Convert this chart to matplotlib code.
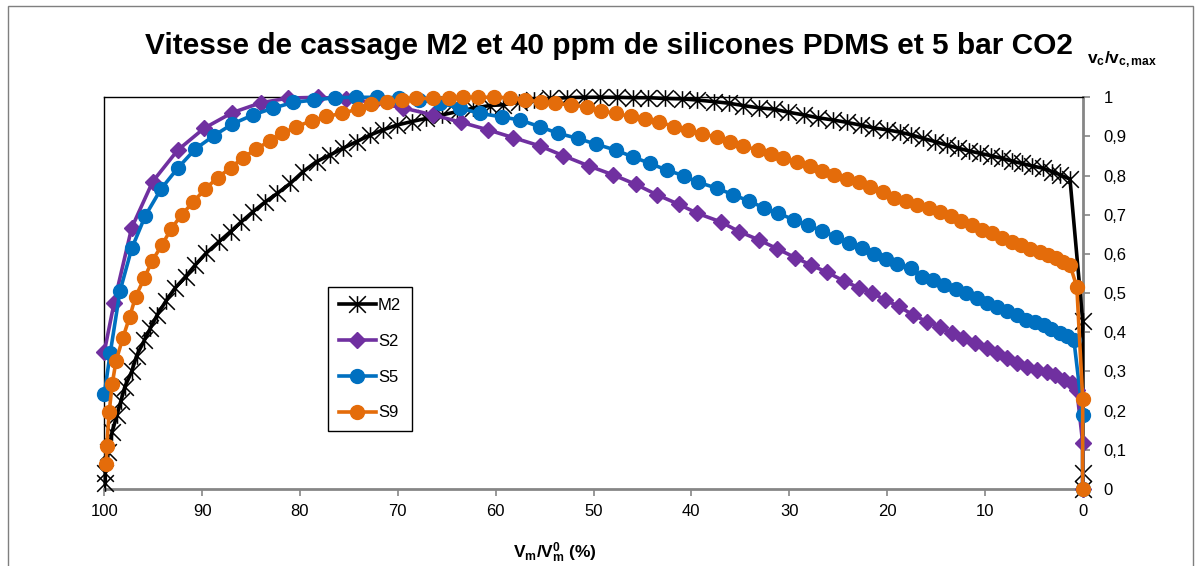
import numpy as np
import matplotlib
matplotlib.use("Agg")
import matplotlib.pyplot as plt
from matplotlib.path import Path
from matplotlib.patches import Rectangle
from matplotlib.ticker import FuncFormatter

plt.rcParams['font.family'] = ['Liberation Sans', 'DejaVu Sans']
plt.rcParams['mathtext.fontset'] = 'custom'
plt.rcParams['mathtext.rm'] = 'Liberation Sans'
plt.rcParams['mathtext.it'] = 'Liberation Sans:italic'
plt.rcParams['mathtext.bf'] = 'Liberation Sans:bold'

#--- donnees (x = Vm/Vm0 en %, y = vc/vc,max) ---
m2_x = [99.9, 99.9, 99.6, 99.2, 98.7, 98.3, 97.9, 97.2, 96.7, 95.9, 95.3, 94.6, 93.7, 92.8,
        91.7, 90.7, 89.6, 88.3, 87.1, 86.0, 84.8, 83.6, 82.3, 81.0, 79.7, 78.3, 76.9, 75.6,
        74.2, 72.8, 71.5, 70.1, 68.6, 67.1, 65.5, 64.0, 62.3, 60.6, 59.2, 57.6, 56.1, 54.4,
        52.7, 51.0, 49.3, 47.6, 46.0, 44.4, 42.7, 41.0, 39.4, 37.7, 36.2, 34.7, 33.1, 31.6,
        30.1, 28.5, 27.1, 25.5, 24.1, 22.7, 21.4, 20.0, 18.7, 17.5, 16.3, 15.1, 13.9, 12.7,
        11.6, 10.5, 9.4, 8.2, 7.2, 6.2, 5.2, 4.1, 3.1, 2.3, 1.3, 0.0, 0.0, 0.0]
m2_y = [0.015, 0.04, 0.095, 0.146, 0.189, 0.225, 0.261, 0.300, 0.340, 0.380, 0.410, 0.444, 0.480, 0.512,
        0.542, 0.572, 0.602, 0.631, 0.657, 0.682, 0.708, 0.732, 0.755, 0.780, 0.810, 0.836, 0.853, 0.870,
        0.887, 0.904, 0.917, 0.929, 0.938, 0.946, 0.955, 0.963, 0.972, 0.979, 0.981, 0.987, 0.993, 0.997,
        0.999, 1.000, 1.000, 1.000, 0.999, 0.999, 0.997, 0.996, 0.993, 0.989, 0.985, 0.979, 0.973, 0.970,
        0.962, 0.955, 0.948, 0.942, 0.936, 0.929, 0.922, 0.917, 0.911, 0.904, 0.895, 0.887, 0.878, 0.870,
        0.863, 0.857, 0.851, 0.844, 0.837, 0.831, 0.825, 0.819, 0.810, 0.802, 0.791, 0.429, 0.040, 0.0]

s2_x = [100.0, 99.0, 97.2, 95.05, 92.5, 89.8, 86.9, 84.0, 81.2, 78.2, 75.3, 72.4, 69.5, 66.4,
        63.5, 60.8, 58.2, 55.5, 53.1, 50.5, 48.0, 45.7, 43.5, 41.3, 39.4, 37.0, 35.1, 33.1,
        31.2, 29.4, 27.8, 26.1, 24.4, 22.9, 21.5, 20.2, 18.8, 17.3, 15.9, 14.6, 13.4, 12.2,
        11.0, 9.8, 8.8, 7.7, 6.7, 5.7, 4.7, 3.6, 2.8, 1.9, 1.1, 0.6, 0.0, 0.0]
s2_y = [0.350, 0.475, 0.667, 0.785, 0.865, 0.921, 0.961, 0.986, 0.998, 1.000, 0.996, 0.987, 0.973, 0.955,
        0.936, 0.917, 0.897, 0.876, 0.851, 0.825, 0.802, 0.778, 0.751, 0.727, 0.704, 0.682, 0.657, 0.636,
        0.613, 0.591, 0.572, 0.553, 0.531, 0.514, 0.500, 0.483, 0.466, 0.444, 0.427, 0.414, 0.397, 0.385,
        0.372, 0.359, 0.346, 0.334, 0.321, 0.312, 0.304, 0.298, 0.291, 0.278, 0.270, 0.253, 0.117, 0.0]

s5_x = [100.0, 99.4, 98.4, 97.2, 95.8, 94.2, 92.5, 90.7, 88.8, 86.9, 84.8, 82.8, 80.7, 78.6,
        76.4, 74.3, 72.1, 69.9, 67.8, 65.7, 63.6, 61.6, 59.4, 57.5, 55.5, 53.6, 51.6, 49.7,
        47.7, 46.0, 44.2, 42.5, 40.8, 39.3, 37.4, 35.7, 34.1, 32.6, 31.1, 29.5, 28.1, 26.6,
        25.2, 23.9, 22.6, 21.3, 20.1, 19.0, 17.6, 16.4, 15.3, 14.2, 13.0, 11.9, 10.8, 9.8,
        8.8, 7.7, 6.7, 5.8, 4.9, 4.0, 3.2, 2.3, 1.6, 0.9, 0.0, 0.0]
s5_y = [0.242, 0.346, 0.505, 0.614, 0.698, 0.766, 0.819, 0.868, 0.902, 0.932, 0.955, 0.972, 0.987, 0.993,
        0.999, 1.000, 1.000, 0.999, 0.993, 0.985, 0.972, 0.959, 0.950, 0.942, 0.925, 0.908, 0.895, 0.880,
        0.865, 0.848, 0.831, 0.814, 0.800, 0.783, 0.768, 0.751, 0.735, 0.718, 0.704, 0.687, 0.674, 0.659,
        0.644, 0.627, 0.614, 0.599, 0.587, 0.574, 0.563, 0.542, 0.534, 0.521, 0.511, 0.500, 0.487, 0.474,
        0.465, 0.454, 0.444, 0.431, 0.426, 0.419, 0.408, 0.397, 0.391, 0.380, 0.189, 0.0]

s9_x = [99.8, 99.75, 99.5, 99.2, 98.8, 98.1, 97.4, 96.8, 95.9, 95.1, 94.1, 93.2, 92.1, 90.9,
        89.7, 88.4, 87.1, 85.8, 84.5, 83.1, 81.8, 80.4, 78.8, 77.3, 75.7, 74.1, 72.7, 71.1,
        69.6, 68.1, 66.4, 64.8, 63.3, 61.8, 60.2, 58.5, 57.0, 55.4, 53.9, 52.3, 50.7, 49.2,
        47.7, 46.2, 44.7, 43.3, 41.8, 40.3, 38.9, 37.4, 36.0, 34.7, 33.2, 31.9, 30.6, 29.2,
        27.9, 26.6, 25.4, 24.1, 22.9, 21.7, 20.4, 19.3, 18.1, 16.9, 15.7, 14.6, 13.5, 12.4,
        11.3, 10.3, 9.3, 8.2, 7.2, 6.3, 5.4, 4.4, 3.5, 2.7, 2.0, 1.3, 0.6, 0.0, 0.0]
s9_y = [0.063, 0.110, 0.196, 0.267, 0.327, 0.386, 0.440, 0.491, 0.539, 0.583, 0.623, 0.663, 0.700, 0.733,
        0.766, 0.795, 0.820, 0.846, 0.868, 0.888, 0.908, 0.925, 0.940, 0.951, 0.959, 0.970, 0.982, 0.987,
        0.993, 0.997, 0.997, 0.999, 1.000, 1.000, 1.000, 0.999, 0.993, 0.989, 0.985, 0.980, 0.976, 0.965,
        0.959, 0.951, 0.944, 0.938, 0.925, 0.917, 0.906, 0.899, 0.887, 0.876, 0.865, 0.854, 0.844, 0.834,
        0.825, 0.812, 0.802, 0.791, 0.783, 0.772, 0.759, 0.744, 0.735, 0.725, 0.717, 0.706, 0.697, 0.684,
        0.674, 0.661, 0.653, 0.642, 0.631, 0.623, 0.613, 0.606, 0.597, 0.589, 0.580, 0.572, 0.516, 0.230, 0.0]

x_ticks = [100, 90, 80, 70, 60, 50, 40, 30, 20, 10, 0]
y_ticks = [0, 0.1, 0.2, 0.3, 0.4, 0.5, 0.6, 0.7, 0.8, 0.9, 1]

#--- marqueur etoile (X + barre verticale) comme Excel ---
etoile = Path([(-1, -1), (1, 1), (-1, 1), (1, -1), (0, -1), (0, 1)],
              [Path.MOVETO, Path.LINETO, Path.MOVETO, Path.LINETO, Path.MOVETO, Path.LINETO])

fig = plt.figure(figsize=(12.01, 5.66), dpi=100)
ax = fig.add_axes([104.3 / 1201, 1 - 489 / 566, (1082.7 - 104.3) / 1201, (489 - 97.3) / 566])

ax.plot(m2_x, m2_y, color='black', lw=2.6, marker=etoile, ms=12, mew=1.1,
        mfc='none', mec='black', label='M2', clip_on=False, zorder=3)
ax.plot(s2_x, s2_y, color='#7030A0', lw=2.6, marker='D', ms=8,
        label='S2', clip_on=False, zorder=4)
ax.plot(s5_x, s5_y, color='#0070C0', lw=2.6, marker='o', ms=10,
        label='S5', clip_on=False, zorder=5)
ax.plot(s9_x, s9_y, color='#E46C0A', lw=2.6, marker='o', ms=10,
        label='S9', clip_on=False, zorder=6)

ax.set_xlim(100, 0)
ax.set_ylim(0, 1)
ax.set_xticks(x_ticks)
ax.set_yticks(y_ticks)
ax.yaxis.tick_right()
ax.yaxis.set_major_formatter(FuncFormatter(lambda v, p: ('%g' % round(v, 1)).replace('.', ',')))
ax.tick_params(axis='both', labelsize=12, colors='#868686', labelcolor='black', length=5, width=1.2)
ax.tick_params(axis='y', pad=10)
ax.tick_params(axis='x', pad=6)

for s in ['top', 'left']:
    ax.spines[s].set_color('black')
    ax.spines[s].set_linewidth(1.0)
for s in ['right', 'bottom']:
    ax.spines[s].set_color('#868686')
    ax.spines[s].set_linewidth(2.0)

fig.text(609 / 1201, 1 - 46 / 566, 'Vitesse de cassage M2 et 40 ppm de silicones PDMS et 5 bar CO2',
         ha='center', va='center', fontsize=21.5, fontweight='bold')
fig.text(1087 / 1201, 1 - 60 / 566, r'$\mathbf{v_c/v_{c,max}}$', ha='left', va='center', fontsize=12.5)
fig.text(555 / 1201, 1 - 553 / 566, r'$\mathbf{V_m/V_m^0}$ (%)', ha='center', va='center',
         fontsize=12.5, fontweight='bold')

leg = fig.legend(loc='upper left', bbox_to_anchor=(328 / 1201, 1 - 287 / 566), borderaxespad=0,
                 fontsize=12, frameon=True, fancybox=False, edgecolor='black', framealpha=1,
                 handlelength=2.2, handletextpad=0.15, labelspacing=1.25, borderpad=0.65)
leg.get_frame().set_linewidth(1.0)

# cadre de la zone de graphique
fig.patches.append(Rectangle((8 / 1201, -0.05), (1193 - 8) / 1201, 1.05 - 6 / 566,
                             transform=fig.transFigure, fill=False, edgecolor='#7f7f7f', lw=1.0))

fig.savefig('out.png', dpi=100)
